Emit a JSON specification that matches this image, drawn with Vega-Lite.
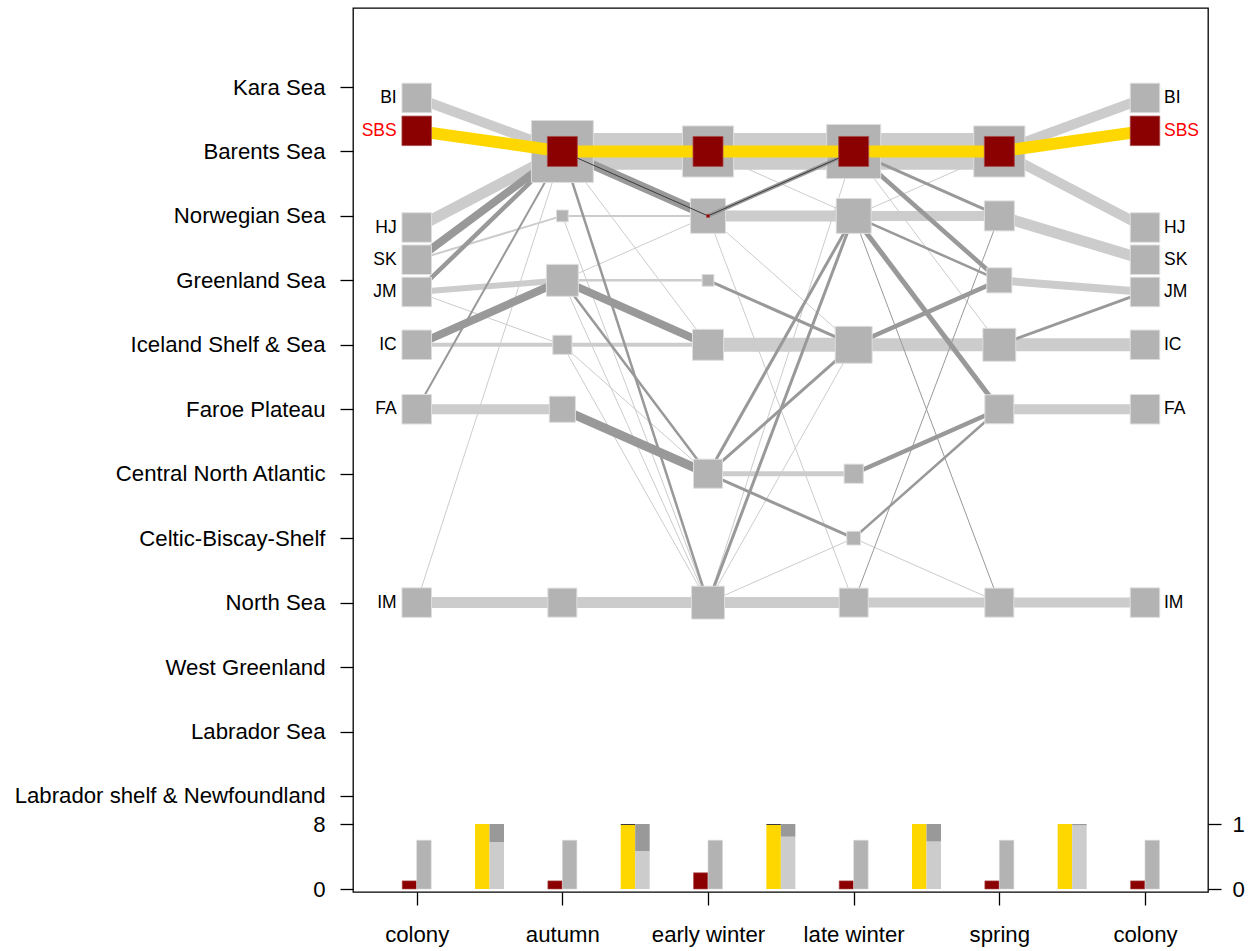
{
  "$schema": "https://vega.github.io/schema/vega-lite/v6.json",
  "width": 855,
  "height": 884,
  "autosize": {"type": "none"},
  "padding": {"left": 353, "top": 8, "right": 40, "bottom": 59},
  "config": {
    "view": {"stroke": "#000000", "strokeWidth": 1.3},
    "font": "Liberation Sans",
    "axis": {"domain": false, "grid": false, "ticks": true, "tickColor": "#000000", "tickWidth": 1.3, "tickSize": 13, "labelColor": "#000000", "labelFont": "Liberation Sans", "labelFontSize": 22.2, "labelPadding": 15, "labelFlush": false, "labelOverlap": false, "labelLimit": 600},
    "axisBottom": {"labelPadding": 18},
    "axisRight": {"labelPadding": 11}
  },
  "datasets": {
    "nodes": [
      {"s": 0, "p": 0.17, "n": 6}, {"s": 0, "p": 2.18, "n": 6}, {"s": 0, "p": 2.68, "n": 6}, {"s": 0, "p": 3.18, "n": 6}, {"s": 0, "p": 4, "n": 6}, {"s": 0, "p": 5, "n": 6}, {"s": 0, "p": 8, "n": 6},
      {"s": 1, "p": 1, "n": 12.6}, {"s": 1, "p": 2, "n": 2.4}, {"s": 1, "p": 3, "n": 6.5}, {"s": 1, "p": 4, "n": 3.9}, {"s": 1, "p": 5, "n": 5.3}, {"s": 1, "p": 8, "n": 5.9},
      {"s": 2, "p": 1, "n": 10.4}, {"s": 2, "p": 2, "n": 7.1}, {"s": 2, "p": 3, "n": 2.4}, {"s": 2, "p": 4, "n": 6.3}, {"s": 2, "p": 6, "n": 5.9}, {"s": 2, "p": 8, "n": 6.7},
      {"s": 3, "p": 1, "n": 11}, {"s": 3, "p": 2, "n": 7.1}, {"s": 3, "p": 4, "n": 7.5}, {"s": 3, "p": 6, "n": 3.9}, {"s": 3, "p": 7, "n": 2.8}, {"s": 3, "p": 8, "n": 5.9},
      {"s": 4, "p": 1, "n": 10.4}, {"s": 4, "p": 2, "n": 6.1}, {"s": 4, "p": 3, "n": 5.1}, {"s": 4, "p": 4, "n": 6.7}, {"s": 4, "p": 5, "n": 5.9}, {"s": 4, "p": 8, "n": 5.9},
      {"s": 5, "p": 0.17, "n": 6}, {"s": 5, "p": 2.18, "n": 6}, {"s": 5, "p": 2.68, "n": 6}, {"s": 5, "p": 3.18, "n": 6}, {"s": 5, "p": 4, "n": 6}, {"s": 5, "p": 5, "n": 6}, {"s": 5, "p": 8, "n": 6}
    ],
    "sbsnodes": [
      {"s": 0, "p": 0.68, "n": 6}, {"s": 1, "p": 1, "n": 6.1}, {"s": 2, "p": 1, "n": 6.1}, {"s": 3, "p": 1, "n": 6.1}, {"s": 4, "p": 1, "n": 6.1}, {"s": 5, "p": 0.68, "n": 6}, {"s": 2, "p": 2, "n": 0.6}
    ],
    "labels": [
      {"s": 0, "p": 0.17, "name": "BI"}, {"s": 0, "p": 0.68, "name": "SBS"}, {"s": 0, "p": 2.18, "name": "HJ"}, {"s": 0, "p": 2.68, "name": "SK"}, {"s": 0, "p": 3.18, "name": "JM"}, {"s": 0, "p": 4, "name": "IC"}, {"s": 0, "p": 5, "name": "FA"}, {"s": 0, "p": 8, "name": "IM"},
      {"s": 5, "p": 0.17, "name": "BI"}, {"s": 5, "p": 0.68, "name": "SBS"}, {"s": 5, "p": 2.18, "name": "HJ"}, {"s": 5, "p": 2.68, "name": "SK"}, {"s": 5, "p": 3.18, "name": "JM"}, {"s": 5, "p": 4, "name": "IC"}, {"s": 5, "p": 5, "name": "FA"}, {"s": 5, "p": 8, "name": "IM"}
    ],
    "links": [
      {"s": 0, "p": 0.17, "s2": 1, "p2": 1, "type": "main", "n": 6},
      {"s": 0, "p": 2.18, "s2": 1, "p2": 1, "type": "main", "n": 6.6},
      {"s": 0, "p": 2.68, "s2": 1, "p2": 2, "type": "main", "n": 1.2},
      {"s": 0, "p": 3.18, "s2": 1, "p2": 3, "type": "main", "n": 3.6},
      {"s": 0, "p": 3.18, "s2": 1, "p2": 4, "type": "main", "n": 0.6},
      {"s": 0, "p": 4, "s2": 1, "p2": 4, "type": "main", "n": 2.4},
      {"s": 0, "p": 5, "s2": 1, "p2": 5, "type": "main", "n": 6},
      {"s": 0, "p": 8, "s2": 1, "p2": 1, "type": "main", "n": 0.6},
      {"s": 0, "p": 8, "s2": 1, "p2": 8, "type": "main", "n": 6.6},
      {"s": 1, "p": 1, "s2": 2, "p2": 1, "type": "main", "n": 22},
      {"s": 1, "p": 1, "s2": 2, "p2": 4, "type": "main", "n": 0.6},
      {"s": 1, "p": 2, "s2": 2, "p2": 2, "type": "main", "n": 1.2},
      {"s": 1, "p": 2, "s2": 2, "p2": 8, "type": "main", "n": 0.6},
      {"s": 1, "p": 3, "s2": 2, "p2": 2, "type": "main", "n": 0.6},
      {"s": 1, "p": 3, "s2": 2, "p2": 3, "type": "main", "n": 1.5},
      {"s": 1, "p": 3, "s2": 2, "p2": 8, "type": "main", "n": 0.6},
      {"s": 1, "p": 4, "s2": 2, "p2": 4, "type": "main", "n": 2.4},
      {"s": 1, "p": 4, "s2": 2, "p2": 6, "type": "main", "n": 0.6},
      {"s": 1, "p": 4, "s2": 2, "p2": 8, "type": "main", "n": 0.6},
      {"s": 1, "p": 8, "s2": 2, "p2": 8, "type": "main", "n": 6.6},
      {"s": 2, "p": 1, "s2": 3, "p2": 1, "type": "main", "n": 22},
      {"s": 2, "p": 1, "s2": 3, "p2": 2, "type": "main", "n": 0.6},
      {"s": 2, "p": 2, "s2": 3, "p2": 2, "type": "main", "n": 6.6},
      {"s": 2, "p": 2, "s2": 3, "p2": 4, "type": "main", "n": 0.6},
      {"s": 2, "p": 2, "s2": 3, "p2": 8, "type": "main", "n": 0.6},
      {"s": 2, "p": 4, "s2": 3, "p2": 4, "type": "main", "n": 8.4},
      {"s": 2, "p": 6, "s2": 3, "p2": 6, "type": "main", "n": 3},
      {"s": 2, "p": 8, "s2": 3, "p2": 1, "type": "main", "n": 0.6},
      {"s": 2, "p": 8, "s2": 3, "p2": 4, "type": "main", "n": 0.6},
      {"s": 2, "p": 8, "s2": 3, "p2": 7, "type": "main", "n": 0.6},
      {"s": 2, "p": 8, "s2": 3, "p2": 8, "type": "main", "n": 6.6},
      {"s": 3, "p": 1, "s2": 4, "p2": 1, "type": "main", "n": 22},
      {"s": 3, "p": 1, "s2": 4, "p2": 4, "type": "main", "n": 0.6},
      {"s": 3, "p": 2, "s2": 4, "p2": 1, "type": "main", "n": 0.6},
      {"s": 3, "p": 2, "s2": 4, "p2": 2, "type": "main", "n": 6},
      {"s": 3, "p": 4, "s2": 4, "p2": 4, "type": "main", "n": 7.8},
      {"s": 3, "p": 7, "s2": 4, "p2": 8, "type": "main", "n": 0.6},
      {"s": 3, "p": 8, "s2": 4, "p2": 8, "type": "main", "n": 6},
      {"s": 4, "p": 1, "s2": 5, "p2": 0.17, "type": "main", "n": 6},
      {"s": 4, "p": 1, "s2": 5, "p2": 2.18, "type": "main", "n": 6},
      {"s": 4, "p": 2, "s2": 5, "p2": 2.68, "type": "main", "n": 6.6},
      {"s": 4, "p": 3, "s2": 5, "p2": 3.18, "type": "main", "n": 4.8},
      {"s": 4, "p": 4, "s2": 5, "p2": 4, "type": "main", "n": 7.8},
      {"s": 4, "p": 5, "s2": 5, "p2": 5, "type": "main", "n": 6},
      {"s": 4, "p": 8, "s2": 5, "p2": 8, "type": "main", "n": 6},
      {"s": 0, "p": 2.68, "s2": 1, "p2": 1, "type": "alt", "n": 4.8},
      {"s": 0, "p": 3.18, "s2": 1, "p2": 1, "type": "alt", "n": 2.7},
      {"s": 0, "p": 4, "s2": 1, "p2": 3, "type": "alt", "n": 4.8},
      {"s": 0, "p": 5, "s2": 1, "p2": 1, "type": "alt", "n": 1.2},
      {"s": 1, "p": 1, "s2": 2, "p2": 2, "type": "alt", "n": 5.4},
      {"s": 1, "p": 1, "s2": 2, "p2": 8, "type": "alt", "n": 1.5},
      {"s": 1, "p": 3, "s2": 2, "p2": 4, "type": "alt", "n": 4.8},
      {"s": 1, "p": 3, "s2": 2, "p2": 6, "type": "alt", "n": 1.5},
      {"s": 1, "p": 5, "s2": 2, "p2": 6, "type": "alt", "n": 5.4},
      {"s": 2, "p": 3, "s2": 3, "p2": 4, "type": "alt", "n": 1.8},
      {"s": 2, "p": 6, "s2": 3, "p2": 2, "type": "alt", "n": 1.8},
      {"s": 2, "p": 6, "s2": 3, "p2": 4, "type": "alt", "n": 1.8},
      {"s": 2, "p": 6, "s2": 3, "p2": 7, "type": "alt", "n": 1.8},
      {"s": 2, "p": 8, "s2": 3, "p2": 2, "type": "alt", "n": 1.8},
      {"s": 3, "p": 1, "s2": 4, "p2": 2, "type": "alt", "n": 1.8},
      {"s": 3, "p": 1, "s2": 4, "p2": 3, "type": "alt", "n": 2.7},
      {"s": 3, "p": 2, "s2": 4, "p2": 3, "type": "alt", "n": 1.5},
      {"s": 3, "p": 2, "s2": 4, "p2": 5, "type": "alt", "n": 3},
      {"s": 3, "p": 2, "s2": 4, "p2": 8, "type": "alt", "n": 0.6},
      {"s": 3, "p": 4, "s2": 4, "p2": 3, "type": "alt", "n": 2.7},
      {"s": 3, "p": 6, "s2": 4, "p2": 5, "type": "alt", "n": 2.7},
      {"s": 3, "p": 7, "s2": 4, "p2": 5, "type": "alt", "n": 1.5},
      {"s": 3, "p": 8, "s2": 4, "p2": 2, "type": "alt", "n": 0.6},
      {"s": 4, "p": 4, "s2": 5, "p2": 3.18, "type": "alt", "n": 1.8},
      {"s": 2, "p": 2, "s2": 3, "p2": 1, "type": "alttop", "n": 2.4},
      {"s": 0, "p": 0.68, "s2": 1, "p2": 1, "type": "sbs", "n": 7.2},
      {"s": 1, "p": 1, "s2": 2, "p2": 1, "type": "sbs", "n": 7.2},
      {"s": 2, "p": 1, "s2": 3, "p2": 1, "type": "sbs", "n": 7.2},
      {"s": 3, "p": 1, "s2": 4, "p2": 1, "type": "sbs", "n": 7.2},
      {"s": 4, "p": 1, "s2": 5, "p2": 0.68, "type": "sbs", "n": 7.2},
      {"s": 1, "p": 1, "s2": 2, "p2": 2, "type": "sbsalt", "n": 0.6},
      {"s": 2, "p": 2, "s2": 3, "p2": 1, "type": "sbsalt", "n": 0.6}
    ],
    "counts": [
      {"s": 0, "g": "sbs", "v": 1}, {"s": 0, "g": "all", "v": 6},
      {"s": 1, "g": "sbs", "v": 1}, {"s": 1, "g": "all", "v": 6},
      {"s": 2, "g": "sbs", "v": 2}, {"s": 2, "g": "all", "v": 6},
      {"s": 3, "g": "sbs", "v": 1}, {"s": 3, "g": "all", "v": 6},
      {"s": 4, "g": "sbs", "v": 1}, {"s": 4, "g": "all", "v": 6},
      {"s": 5, "g": "sbs", "v": 1}, {"s": 5, "g": "all", "v": 6}
    ],
    "props": [
      {"s": 0.5, "k": "sbs", "f": 1},
      {"s": 1.5, "k": "sbs", "f": 0.985}, {"s": 1.5, "k": "sbsalt", "f": 0.015},
      {"s": 2.5, "k": "sbs", "f": 0.985}, {"s": 2.5, "k": "sbsalt", "f": 0.015},
      {"s": 3.5, "k": "sbs", "f": 1},
      {"s": 4.5, "k": "sbs", "f": 1},
      {"s": 0.5, "k": "main", "f": 0.72}, {"s": 0.5, "k": "alt", "f": 0.28},
      {"s": 1.5, "k": "main", "f": 0.585}, {"s": 1.5, "k": "alt", "f": 0.415},
      {"s": 2.5, "k": "main", "f": 0.805}, {"s": 2.5, "k": "alt", "f": 0.195},
      {"s": 3.5, "k": "main", "f": 0.73}, {"s": 3.5, "k": "alt", "f": 0.27},
      {"s": 4.5, "k": "main", "f": 0.98}, {"s": 4.5, "k": "alt", "f": 0.02}
    ]
  },
  "layer": [
    {
      "encoding": {
        "x": {"field": "s", "type": "quantitative", "scale": {"domain": [-0.4373, 5.4325], "nice": false, "zero": false, "padding": 0},
              "axis": {"orient": "bottom", "title": null, "values": [0, 1, 2, 3, 4, 5], "labelExpr": "['colony','autumn','early winter','late winter','spring','colony'][datum.value]"}},
        "y": {"field": "p", "type": "quantitative", "scale": {"domain": [-1.2258, 12.49], "nice": false, "zero": false, "reverse": true, "padding": 0},
              "axis": {"orient": "left", "title": null, "values": [0, 1, 2, 3, 4, 5, 6, 7, 8, 9, 10, 11], "labelExpr": "['Kara Sea','Barents Sea','Norwegian Sea','Greenland Sea','Iceland Shelf & Sea','Faroe Plateau','Central North Atlantic','Celtic-Biscay-Shelf','North Sea','West Greenland','Labrador Sea','Labrador shelf & Newfoundland'][datum.value]"}}
      },
      "layer": [
        {
          "data": {"name": "links"},
          "transform": [{"filter": "datum.type === 'main' || datum.type === 'alt'"}],
          "mark": {"type": "rule", "strokeCap": "butt"},
          "encoding": {
            "x2": {"field": "s2"},
            "y2": {"field": "p2"},
            "color": {"field": "type", "type": "nominal", "legend": null, "scale": {"domain": ["main", "alt", "alttop", "sbs", "sbsalt"], "range": ["#cccccc", "#999999", "#999999", "#ffd700", "#3a3a3a"]}},
            "strokeWidth": {"field": "n", "type": "quantitative", "legend": null, "scale": {"type": "linear", "domain": [0, 6], "range": [0, 10], "zero": true}}
          }
        },
        {
          "data": {"name": "nodes"},
          "mark": {"type": "square", "filled": true, "color": "#b3b3b3", "stroke": "#dedede", "strokeWidth": 1, "opacity": 1},
          "encoding": {
            "size": {"field": "n", "type": "quantitative", "legend": null, "scale": {"type": "pow", "exponent": 2, "domain": [0, 6], "range": [0, 870]}}
          }
        },
        {
          "data": {"name": "links"},
          "transform": [{"filter": "datum.type !== 'main' && datum.type !== 'alt'"}],
          "mark": {"type": "rule", "strokeCap": "butt"},
          "encoding": {
            "x2": {"field": "s2"},
            "y2": {"field": "p2"},
            "color": {"field": "type", "type": "nominal", "legend": null, "scale": {"domain": ["main", "alt", "alttop", "sbs", "sbsalt"], "range": ["#cccccc", "#999999", "#999999", "#ffd700", "#3a3a3a"]}},
            "strokeWidth": {"field": "n", "type": "quantitative", "legend": null, "scale": {"type": "linear", "domain": [0, 6], "range": [0, 10], "zero": true}}
          }
        },
        {
          "data": {"name": "sbsnodes"},
          "mark": {"type": "square", "filled": true, "color": "#8b0000", "stroke": "#a84a4a", "strokeWidth": 0.8, "opacity": 1},
          "encoding": {
            "size": {"field": "n", "type": "quantitative", "legend": null, "scale": {"type": "pow", "exponent": 2, "domain": [0, 6], "range": [0, 870]}}
          }
        },
        {
          "data": {"name": "labels"},
          "transform": [{"filter": "datum.s === 0"}],
          "mark": {"type": "text", "align": "right", "baseline": "middle", "dx": -20, "fontSize": 17.5, "font": "Liberation Sans"},
          "encoding": {
            "text": {"field": "name"},
            "color": {"condition": {"test": "datum.name === 'SBS'", "value": "#ff0000"}, "value": "#000000"}
          }
        },
        {
          "data": {"name": "labels"},
          "transform": [{"filter": "datum.s === 5"}],
          "mark": {"type": "text", "align": "left", "baseline": "middle", "dx": 19, "fontSize": 17.5, "font": "Liberation Sans"},
          "encoding": {
            "text": {"field": "name"},
            "color": {"condition": {"test": "datum.name === 'SBS'", "value": "#ff0000"}, "value": "#000000"}
          }
        }
      ]
    },
    {
      "data": {"name": "counts"},
      "encoding": {
        "x": {"field": "s", "type": "quantitative", "scale": {"domain": [-0.4373, 5.4325], "nice": false, "zero": false, "padding": 0},
              "axis": {"orient": "bottom", "title": null, "values": [0, 1, 2, 3, 4, 5], "labelExpr": "['colony','autumn','early winter','late winter','spring','colony'][datum.value]"}},
        "y": {"field": "v", "type": "quantitative", "scale": {"domain": [-0.369, 108.43], "nice": false, "zero": false, "padding": 0},
              "axis": {"orient": "left", "title": null, "values": [0, 8], "format": "d"}},
        "y2": {"datum": 0}
      },
      "layer": [
        {
          "transform": [{"filter": "datum.g === 'sbs'"}],
          "mark": {"type": "bar", "width": 14.5, "xOffset": -7.25, "color": "#8b0000", "stroke": "#b05050", "strokeWidth": 0.6}
        },
        {
          "transform": [{"filter": "datum.g === 'all'"}],
          "mark": {"type": "bar", "width": 14.5, "xOffset": 7.25, "color": "#b3b3b3", "stroke": "#d8d8d8", "strokeWidth": 0.6}
        }
      ]
    },
    {
      "data": {"name": "props"},
      "encoding": {
        "x": {"field": "s", "type": "quantitative", "scale": {"domain": [-0.4373, 5.4325], "nice": false, "zero": false, "padding": 0},
              "axis": {"orient": "bottom", "title": null, "values": [0, 1, 2, 3, 4, 5], "labelExpr": "['colony','autumn','early winter','late winter','spring','colony'][datum.value]"}},
        "y": {"field": "f", "type": "quantitative", "stack": "zero", "scale": {"domain": [-0.04615, 13.554], "nice": false, "zero": false, "padding": 0},
              "axis": {"orient": "right", "title": null, "values": [0, 1], "format": "d"}},
        "color": {"field": "k", "type": "nominal", "legend": null, "scale": {"domain": ["sbs", "sbsalt", "main", "alt"], "range": ["#ffd700", "#3a3a3a", "#cccccc", "#999999"]}}
      },
      "layer": [
        {
          "transform": [{"filter": "datum.k === 'sbs' || datum.k === 'sbsalt'"}],
          "mark": {"type": "bar", "width": 14.5, "xOffset": -7.25},
          "encoding": {"order": {"field": "k", "sort": "ascending"}}
        },
        {
          "transform": [{"filter": "datum.k === 'main' || datum.k === 'alt'"}],
          "mark": {"type": "bar", "width": 14.5, "xOffset": 7.25},
          "encoding": {"order": {"field": "k", "sort": "descending"}}
        }
      ]
    }
  ],
  "resolve": {
    "scale": {"y": "independent", "color": "independent", "size": "independent", "strokeWidth": "independent"},
    "axis": {"y": "independent"}
  }
}
